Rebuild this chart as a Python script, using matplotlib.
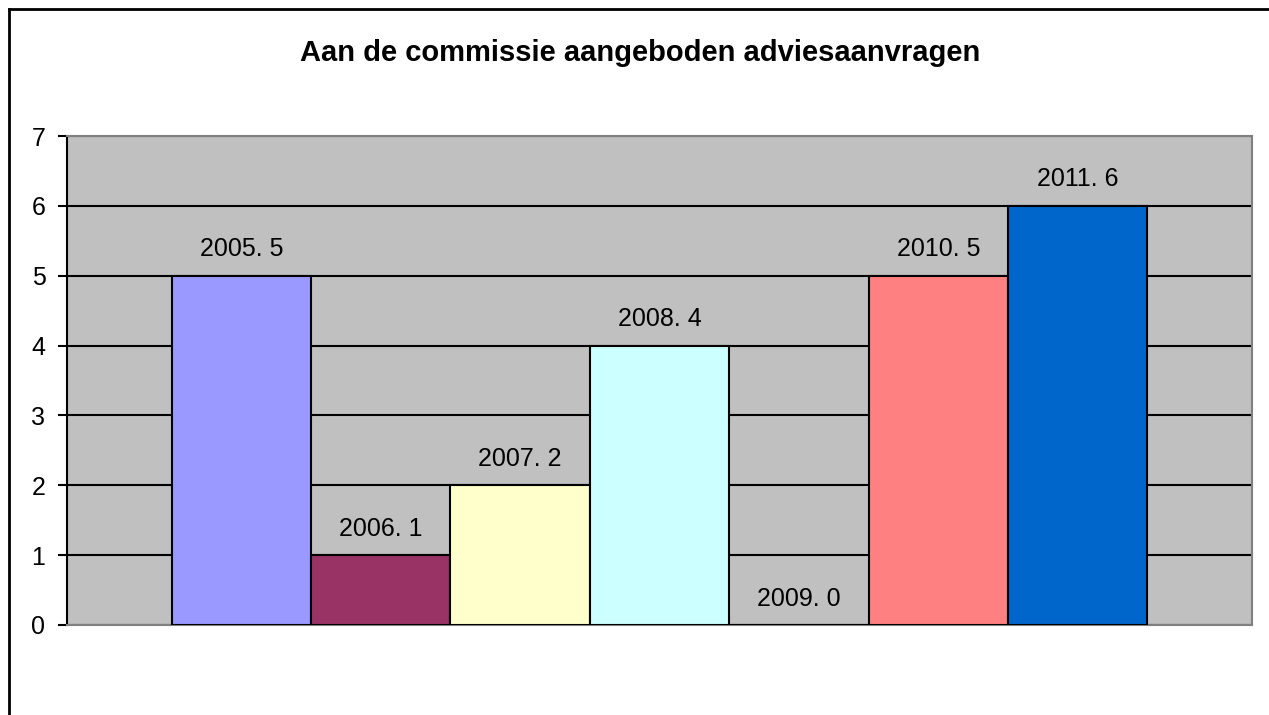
import matplotlib.pyplot as plt
from matplotlib.lines import Line2D

plt.rcParams['font.family'] = ['Liberation Sans', 'DejaVu Sans']

# data
years = ['2005', '2006', '2007', '2008', '2009', '2010', '2011']
counts = [5, 1, 2, 4, 0, 5, 6]
colors = ['#9999FF', '#993366', '#FFFFCC', '#CCFFFF', '#660066', '#FF8080', '#0066CC']
title = 'Aan de commissie aangeboden adviesaanvragen'

W, H = 1269, 715
fig = plt.figure(figsize=(W / 100, H / 100), dpi=100)
ax = fig.add_axes([67 / W, 1 - 625 / H, (1252 - 67) / W, (625 - 136) / H])

ax.set_facecolor('#C0C0C0')
ax.set_ylim(0, 7)
ax.set_yticks(range(0, 8))
ax.yaxis.grid(True, color='black', linewidth=1.5)
ax.set_axisbelow(True)

xs = list(range(len(years)))
ax.bar(xs, counts, width=1.0, color=colors, edgecolor='black', linewidth=1.5, zorder=3)
ax.set_xlim(-0.5 - 0.75, len(years) - 0.5 + 0.75)

for x, y, v in zip(xs, counts, years):
    ax.annotate(f'{v}. {y}', (x, y), xytext=(0, 19), textcoords='offset points',
                ha='center', va='center', fontsize=18, zorder=4)

ax.set_xticks([])
ax.tick_params(axis='y', direction='out', length=6.5, width=1.5, pad=9, labelsize=18)
for side in ['top', 'right', 'bottom']:
    ax.spines[side].set_color('#808080')
    ax.spines[side].set_linewidth(1.5)
ax.spines['left'].set_color('black')
ax.spines['left'].set_linewidth(1.5)

fig.text(640 / W, 1 - 53 / H, title, ha='center', va='center',
         fontsize=21, fontweight='bold')

# outer chart border (only top and left visible)
fig.add_artist(Line2D([8.5 / W, 1], [1 - 8.5 / H, 1 - 8.5 / H], color='black',
                      linewidth=2, transform=fig.transFigure))
fig.add_artist(Line2D([8.5 / W, 8.5 / W], [0, 1 - 8.5 / H], color='black',
                      linewidth=2, transform=fig.transFigure))

fig.savefig('out.png', dpi=100)
